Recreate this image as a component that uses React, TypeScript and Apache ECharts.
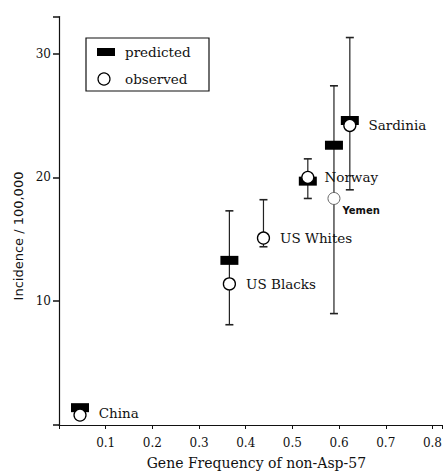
import React, { useEffect, useRef } from "react";
import * as echarts from "echarts";

const populations = ["China", "US Blacks", "US Whites", "Norway", "Yemen", "Sardinia"];
const geneFreq = [0.045, 0.365, 0.438, 0.533, 0.589, 0.623];
const observed = [0.8, 11.4, 15.1, 20.0, 18.3, 24.2];
const predicted: (number | null)[] = [1.4, 13.3, null, 19.7, 22.6, 24.6];
const errLow: (number | null)[] = [null, 8.1, 14.4, 18.3, 9.0, 19.0];
const errHigh: (number | null)[] = [null, 17.3, 18.2, 21.5, 27.4, 31.3];
const xTicks = [0.1, 0.2, 0.3, 0.4, 0.5, 0.6, 0.7, 0.8];
const yTicks = [10, 20, 30];

const SERIF = "DejaVu Serif";
const SANS = "DejaVu Sans";

export default function App() {
  const ref = useRef<HTMLDivElement>(null);
  useEffect(() => {
    if (!ref.current) return;
    const chart = echarts.init(ref.current, undefined, { renderer: "svg" });

    const predData = populations
      .map((p, i) => (predicted[i] == null ? null : [geneFreq[i], predicted[i]]))
      .filter((d) => d !== null);

    const labelCfg = (name: string) => {
      const base: any = {
        show: true,
        position: "right",
        distance: 10,
        formatter: name,
        fontFamily: SERIF,
        fontSize: 13.5,
        color: "#111",
      };
      if (name === "Yemen") {
        return { ...base, fontFamily: SANS, fontWeight: "bold", fontSize: 10, distance: 8, offset: [-6, 12] };
      }
      if (name === "Sardinia") return { ...base, distance: 12 };
      if (name === "China") return { ...base, distance: 12, offset: [0, -2] };
      return base;
    };

    const obsData = populations.map((p, i) => ({
      name: p,
      value: [geneFreq[i], observed[i]],
      label: labelCfg(p),
      itemStyle: p === "Yemen" ? { borderColor: "#666", borderWidth: 1 } : undefined,
    }));

    const errData = populations
      .map((p, i) =>
        errLow[i] == null ? null : { name: p, value: [geneFreq[i], errLow[i], errHigh[i]] }
      )
      .filter((d) => d !== null);

    chart.setOption({
      animation: false,
      grid: { left: 59, right: 2, top: 16.5, bottom: 46 },
      xAxis: {
        type: "value",
        min: 0,
        max: 0.82,
        interval: 0.1,
        name: "Gene Frequency of non-Asp-57",
        nameLocation: "middle",
        nameGap: 31,
        nameTextStyle: { fontFamily: SERIF, fontSize: 14, color: "#111", padding: [0, 0, 0, 12] },
        axisLine: { show: true, lineStyle: { color: "#111", width: 1.2 } },
        axisTick: { show: true, length: 4, lineStyle: { color: "#111" } },
        axisLabel: {
          fontFamily: SERIF,
          fontSize: 12,
          color: "#111",
          margin: 12,
          formatter: (v: number) => {
            const t = xTicks.find((x) => Math.abs(x - v) < 1e-6);
            return t === undefined ? "" : t.toFixed(1);
          },
        },
        splitLine: { show: false },
      },
      yAxis: {
        type: "value",
        min: 0,
        max: 33,
        interval: 10,
        axisLine: { show: true, lineStyle: { color: "#111", width: 1.2 } },
        axisTick: { show: true, length: 6, inside: false, lineStyle: { color: "#111", width: 1.5 } },
        axisLabel: {
          fontFamily: SERIF,
          fontSize: 12,
          color: "#111",
          margin: 8,
          formatter: (v: number) => (yTicks.includes(v) ? String(v) : ""),
        },
        splitLine: { show: false },
      },
      series: [
        {
          type: "custom",
          name: "error",
          data: errData,
          z: 1,
          renderItem: (params: any, api: any) => {
            const x = api.value(0);
            const lo = api.coord([x, api.value(1)]);
            const hi = api.coord([x, api.value(2)]);
            const cap = 4;
            const thick = populations[params.dataIndex] === "Yemen";
            const style = { stroke: "#222", lineWidth: 1.2 };
            return {
              type: "group",
              children: [
                { type: "line", shape: { x1: lo[0], y1: lo[1], x2: hi[0], y2: hi[1] }, style },
                { type: "line", shape: { x1: lo[0] - cap, y1: lo[1], x2: lo[0] + cap, y2: lo[1] }, style: { ...style, lineWidth: 1.6 } },
                { type: "line", shape: { x1: hi[0] - cap, y1: hi[1], x2: hi[0] + cap, y2: hi[1] }, style: { ...style, lineWidth: 1.6 } },
              ],
            };
          },
        },
        {
          type: "scatter",
          name: "predicted",
          data: predData,
          symbol: "rect",
          symbolSize: [18, 9],
          itemStyle: { color: "#000", opacity: 1 },
          z: 2,
        },
        {
          type: "scatter",
          name: "observed",
          data: obsData,
          symbol: "circle",
          symbolSize: 12,
          itemStyle: { color: "#fff", borderColor: "#000", borderWidth: 1.3, opacity: 1 },
          z: 3,
        },
      ],
      graphic: [
        {
          type: "text",
          x: 18,
          y: 236,
          rotation: Math.PI / 2,
          style: {
            text: "Incidence / 100,000",
            fontFamily: SANS,
            fontSize: 13,
            fill: "#111",
            align: "center",
            verticalAlign: "middle",
          },
        },
        {
          type: "rect",
          shape: { x: 86, y: 38, width: 123, height: 53 },
          style: { fill: "#fff", stroke: "#111", lineWidth: 1.2 },
          z: 10,
        },
        {
          type: "rect",
          shape: { x: 97, y: 48, width: 18, height: 8 },
          style: { fill: "#000" },
          z: 11,
        },
        {
          type: "text",
          x: 125,
          y: 52,
          style: { text: "predicted", fontFamily: SERIF, fontSize: 13.5, fill: "#111", verticalAlign: "middle" },
          z: 11,
        },
        {
          type: "circle",
          shape: { cx: 104, cy: 79, r: 6 },
          style: { fill: "#fff", stroke: "#000", lineWidth: 1.2 },
          z: 11,
        },
        {
          type: "text",
          x: 125,
          y: 79,
          style: { text: "observed", fontFamily: SERIF, fontSize: 13.5, fill: "#111", verticalAlign: "middle" },
          z: 11,
        },
      ],
    });
    return () => chart.dispose();
  }, []);
  return (
    <div
      ref={ref}
      style={{ position: "absolute", left: 0, top: 0, width: 445, height: 475, background: "#fff" }}
    />
  );
}
